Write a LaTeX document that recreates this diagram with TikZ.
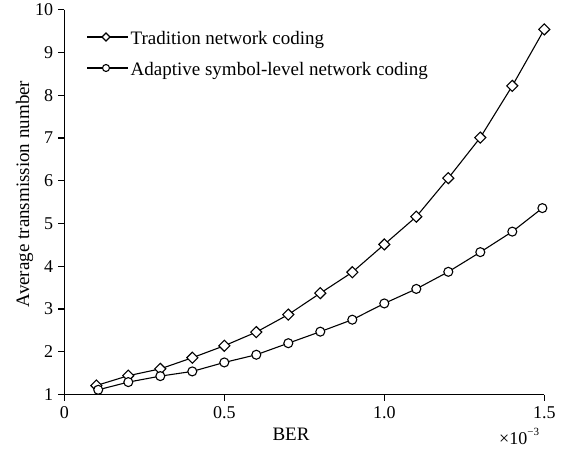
\documentclass[tikz,border=0pt]{standalone}
\usepackage{fontspec}
\setmainfont{Liberation Serif}
\usetikzlibrary{shapes.geometric}
\begin{document}
\begin{tikzpicture}[x=1pt,y=1pt,
  dia/.style={diamond, draw, fill=white, line width=1.1pt, inner sep=0pt, minimum size=11.5pt},
  circ/.style={circle, draw, fill=white, line width=1.1pt, inner sep=0pt, minimum size=9pt},
  curve/.style={line width=1.1pt},
  axisline/.style={line width=1.3pt},
  ticklab/.style={font=\fontsize{18}{20}\selectfont, inner sep=0pt},
  lab/.style={font=\fontsize{19}{22}\selectfont, inner sep=0pt}]
\useasboundingbox (0,0) rectangle (562,448);
\begin{scope}[shift={(64.3,10.75)}, x=320pt, y=42.75pt]
  % axes
  \coordinate (o) at (0,1);
  \coordinate (xe) at (1.5,1);
  \coordinate (ye) at (0,10);
  \draw[axisline] (ye) -- (o) -- (xe);
  % y ticks
  \foreach \v in {1,...,10} {
    \coordinate (yt\v) at (0,\v);
    \coordinate (ytk\v) at ([xshift=-6pt]yt\v);
    \draw[axisline] (yt\v) -- (ytk\v);
    \node[ticklab, anchor=east] (ytl\v) at ([xshift=-11pt]yt\v) {\v};
  }
  % x ticks
  \foreach \x/\l [count=\i] in {0/0,0.5/0.5,1/1.0,1.5/1.5} {
    \coordinate (xt\i) at (\x,1);
    \coordinate (xtk\i) at ([yshift=-6pt]xt\i);
    \draw[axisline] (xt\i) -- (xtk\i);
    \node[ticklab, anchor=north] (xtl\i) at ([yshift=-12pt]xt\i) {\l};
  }
  % traditional network coding (diamonds)
  \foreach \x/\v [count=\i] in {0.1/1.21,0.2/1.44,0.3/1.60,0.4/1.86,0.5/2.14,0.6/2.46,0.7/2.87,0.8/3.37,0.9/3.86,1.0/4.51,1.1/5.16,1.2/6.06,1.3/7.01,1.4/8.22,1.5/9.54}
    \coordinate (dp\i) at (\x,\v);
  \foreach \i [evaluate=\i as \j using int(\i+1)] in {1,...,14}
    \draw[curve] (dp\i) -- (dp\j);
  \foreach \i in {1,...,15}
    \node[dia] (d\i) at (dp\i) {};
  % adaptive symbol-level network coding (circles)
  \foreach \x/\v [count=\i] in {0.106/1.11,0.2/1.29,0.3/1.43,0.4/1.54,0.5/1.75,0.6/1.93,0.7/2.20,0.8/2.47,0.9/2.75,1.0/3.13,1.1/3.47,1.2/3.87,1.3/4.33,1.4/4.81,1.494/5.36}
    \coordinate (cp\i) at (\x,\v);
  \foreach \i [evaluate=\i as \j using int(\i+1)] in {1,...,14}
    \draw[curve] (cp\i) -- (cp\j);
  \foreach \i in {1,...,15}
    \node[circ] (c\i) at (cp\i) {};
\end{scope}
% legend
\coordinate (la1) at (87,411);
\coordinate (lb1) at (128,411);
\draw[curve] (la1) -- (lb1);
\node[dia, minimum size=8.5pt] (lm1) at (106,411) {};
\node[lab, anchor=base west] (lt1) at (130.5,403) {Tradition network coding};
\coordinate (la2) at (87,380);
\coordinate (lb2) at (128,380);
\draw[curve] (la2) -- (lb2);
\node[circ, minimum size=7pt] (lm2) at (106,380) {};
\node[lab, anchor=base west] (lt2) at (130.5,372) {Adaptive symbol-level network coding};
% axis labels
\node[lab, anchor=base] (xlab) at (291,7.3) {BER};
\node[lab, anchor=base, rotate=90] (ylab) at (29,254) {Average transmission number};
\node[ticklab, anchor=base west] (xexp) at (499,3.5) {×10\raisebox{9pt}{\fontsize{11}{12}\selectfont −3}};
\end{tikzpicture}
\end{document}
